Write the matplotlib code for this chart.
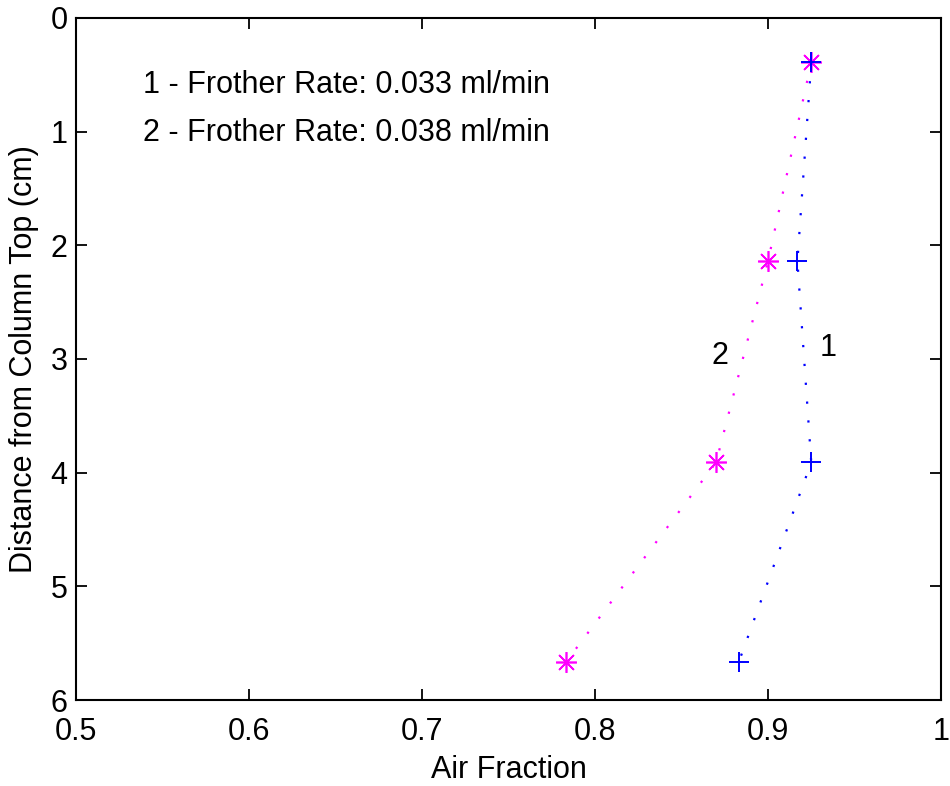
import matplotlib
matplotlib.use("Agg")
import matplotlib.pyplot as plt

# === Data ===
depth = [0.39, 2.14, 3.91, 5.67]                  # distance from column top (cm)
air_rate1 = [0.925, 0.917, 0.925, 0.883]          # frother 0.033 ml/min
air_rate2 = [0.925, 0.900, 0.870, 0.783]          # frother 0.038 ml/min

x_ticks = [0.5, 0.6, 0.7, 0.8, 0.9, 1.0]
x_tick_labels = ["0.5", "0.6", "0.7", "0.8", "0.9", "1"]
y_ticks = [0, 1, 2, 3, 4, 5, 6]

legend_lines = ["1 - Frother Rate: 0.033 ml/min", "2 - Frother Rate: 0.038 ml/min"]

plt.rcParams["font.family"] = ["Liberation Sans", "DejaVu Sans"]
plt.rcParams["font.size"] = 22

fig = plt.figure(figsize=(9.5, 7.86), dpi=100)
ax = fig.add_axes([76 / 950, 1 - 700 / 786, 865 / 950, 682 / 786])

# MATLAB-style asterisk = plus + cross overlaid
ax.plot(air_rate2, depth, color="#ff00ff", linestyle=(0, (1, 7.5)), linewidth=1.6,
        marker=(8, 2, 0), markersize=15, markeredgewidth=1.2)
ax.plot(air_rate1, depth, color="#0000ff", linestyle=(0, (1, 7.5)), linewidth=1.6,
        marker="+", markersize=15, markeredgewidth=1.4)

ax.text(0.935, 2.9, "1", ha="center", va="center")
ax.text(0.872, 2.97, "2", ha="center", va="center")
ax.text(0.539, 0.59, legend_lines[0], ha="left", va="center")
ax.text(0.539, 1.01, legend_lines[1], ha="left", va="center")

ax.set_xlim(0.5, 1.0)
ax.set_ylim(6, 0)
ax.set_xticks(x_ticks)
ax.set_xticklabels(x_tick_labels)
ax.set_yticks(y_ticks)
ax.tick_params(direction="in", length=8, width=1.3, top=True, right=True)
ax.tick_params(axis="x", pad=12)
ax.tick_params(axis="y", pad=6)
for s in ax.spines.values():
    s.set_linewidth(1.5)

ax.set_xlabel("Air Fraction", labelpad=6)
ax.set_ylabel("Distance from Column Top (cm)", labelpad=8)

fig.savefig("out.png", dpi=100)
